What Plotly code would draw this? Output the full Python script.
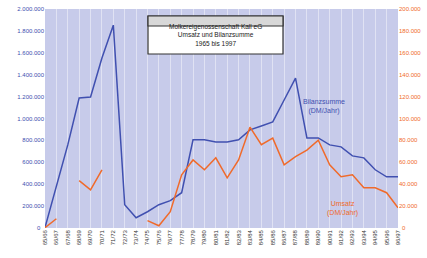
import plotly.graph_objects as go

years = [f"{y % 100:02d}/{(y + 1) % 100:02d}" for y in range(1965, 1997)]

bilanzsumme = [0, 385000, 758000, 1187000, 1196000, 1553000, 1854000, 210000,
               91000, 146000, 210000, 247000, 320000, 804000, 804000, 785000,
               785000, 804000, 895000, 931000, 968000, 1169000, 1370000, 822000,
               822000, 758000, 740000, 657000, 639000, 530000, 466000, 466000]

umsatz = [0, 8200, None, 43000, 34700, 53000, None, None,
          None, 6400, 1800, 14600, 48400, 62000, 53000, 64000,
          45600, 62000, 92000, 76000, 82000, 57500, 65000, 71000,
          80000, 57500, 46600, 48400, 36500, 36500, 32000, 18300]

left_ticks = list(range(0, 2000001, 200000))
right_ticks = list(range(0, 200001, 20000))


def fmt(v):
    return f"{v:,}".replace(",", ".")


BLUE = "#4050b0"
ORANGE = "#f06a2a"

fig = go.Figure()
fig.add_trace(go.Scatter(x=years, y=bilanzsumme, mode="lines",
                         line=dict(color=BLUE, width=1.5), yaxis="y",
                         showlegend=False))
fig.add_trace(go.Scatter(x=years, y=umsatz, mode="lines",
                         line=dict(color=ORANGE, width=1.5), yaxis="y2",
                         connectgaps=False, showlegend=False))

L, R, T, B = 45, 398, 9, 228
W, H = 427, 258


def px(x):
    return (x - L) / (R - L)


def py(y):
    return (B - y) / (B - T)


fig.update_layout(
    width=W, height=H,
    margin=dict(l=L, r=W - R, t=T, b=H - B, autoexpand=False),
    paper_bgcolor="white",
    plot_bgcolor="#c7cbea",
    font=dict(family="Liberation Sans, Arial, sans-serif", size=6, color="#333"),
    xaxis=dict(type="category", tickangle=-90, showgrid=True,
               gridcolor="rgba(255,255,255,0.45)", gridwidth=1,
               tickfont=dict(size=6, color="#333"), ticks="",
               showline=False, zeroline=False, automargin=False),
    yaxis=dict(range=[-3000, 2002000], tickvals=left_ticks[1:],
               ticktext=[fmt(v) for v in left_ticks[1:]],
               tickfont=dict(size=6, color=BLUE), showgrid=False,
               zeroline=False, ticks="", automargin=False),
    yaxis2=dict(range=[-300, 200200], tickvals=right_ticks[1:],
                ticktext=[fmt(v) for v in right_ticks[1:]],
                tickfont=dict(size=6, color=ORANGE), overlaying="y",
                side="right", showgrid=False, zeroline=False, ticks="",
                automargin=False),
    shapes=[dict(type="rect", xref="paper", yref="paper",
                 x0=px(148), x1=px(283), y0=py(54), y1=py(16),
                 fillcolor="white", line=dict(color="#333", width=1.2),
                 layer="above"),
            dict(type="rect", xref="paper", yref="paper",
                 x0=px(148), x1=px(283), y0=py(26), y1=py(16),
                 fillcolor="#d8d8d8", line=dict(color="#333", width=1.2),
                 layer="above")],
    annotations=[
        dict(xref="paper", yref="paper", x=px(215.5), y=py(35),
             text="Molkereigenossenschaft Kall eG<br>Umsatz und Bilanzsumme<br>1965 bis 1997",
             showarrow=False, font=dict(size=6.5, color="#222"), align="center",
             yanchor="middle"),
        dict(xref="paper", yref="paper", x=px(347), y=py(106),
             text="Bilanzsumme<br>(DM/Jahr)", showarrow=False,
             font=dict(size=7, color=BLUE), align="center", yanchor="middle"),
        dict(xref="paper", yref="paper", x=px(360), y=py(208),
             text="Umsatz<br>(DM/Jahr)", showarrow=False,
             font=dict(size=7, color=ORANGE), align="center", yanchor="middle"),
        dict(xref="paper", yref="y", x=px(43), y=left_ticks[0],
             text=fmt(left_ticks[0]), showarrow=False, xanchor="right",
             yanchor="middle", font=dict(size=6, color=BLUE)),
        dict(xref="paper", yref="y2", x=px(400), y=right_ticks[0],
             text=fmt(right_ticks[0]), showarrow=False, xanchor="left",
             yanchor="middle", font=dict(size=6, color=ORANGE)),
    ],
)

fig.write_html("out.html", config={"displayModeBar": False},
               post_script="document.body.style.margin='0';")
